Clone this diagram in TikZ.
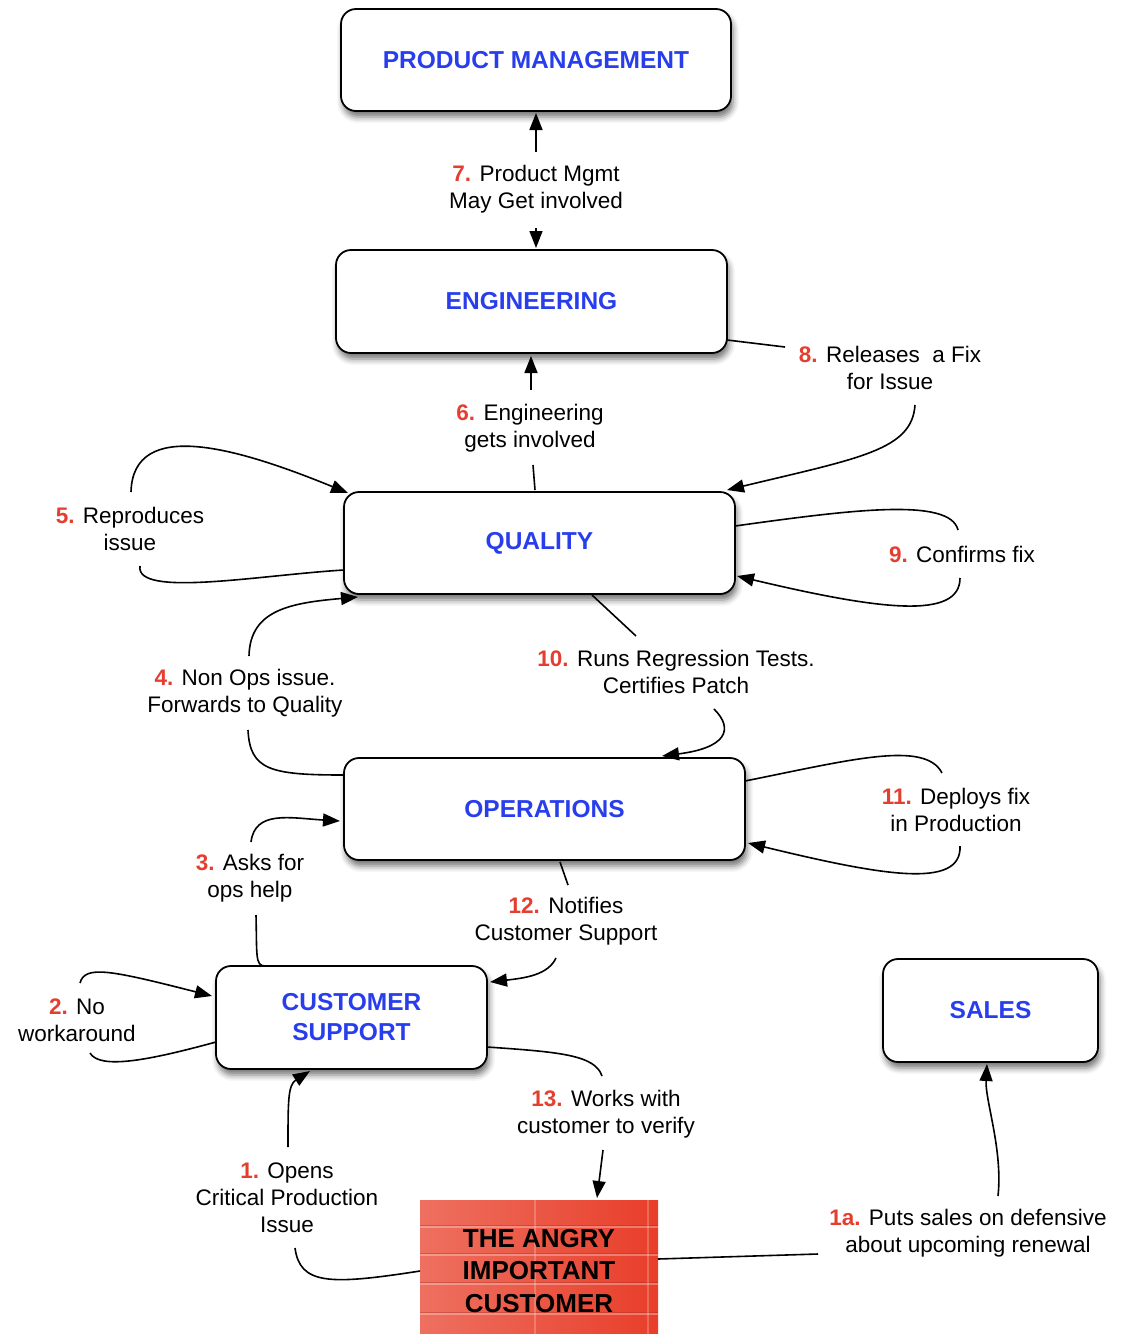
\documentclass[tikz,border=0pt]{standalone}
\usepackage{fontspec}
\setmainfont{Liberation Sans}
\usetikzlibrary{arrows.meta,calc,shadows.blur}
\definecolor{boxblue}{RGB}{40,62,236}
\definecolor{numred}{RGB}{228,62,48}
\definecolor{custlight}{RGB}{238,112,96}
\definecolor{custdark}{RGB}{232,62,42}
\newcommand{\nr}[1]{\textcolor{numred}{\textbf{#1}}}
\begin{document}
\begin{tikzpicture}[x=1pt,y=-1pt,
  box/.style={draw=black, line width=1.8pt, rounded corners=15pt, fill=white, inner sep=0pt,
    align=center, font=\fontsize{24.5}{30}\selectfont\bfseries, text=boxblue,
    blur shadow={shadow xshift=2pt, shadow yshift=-6pt, shadow blur radius=6pt, shadow opacity=55}},
  custbox/.style={inner sep=0pt, align=center, font=\fontsize{26}{32.5}\selectfont\bfseries, text=black,
    left color=custlight, right color=custdark,
    path picture={
      \foreach \d in {25,53,82,112}{
        \draw[custdark!70!black, opacity=0.35, line width=1pt]
          ($(path picture bounding box.north west)+(0,\d)$) -- ($(path picture bounding box.north east)+(0,\d)$);
        \draw[white, opacity=0.3, line width=2pt]
          ($(path picture bounding box.north west)+(0,\d+2)$) -- ($(path picture bounding box.north east)+(0,\d+2)$);
      }
      \foreach \e in {115,228}{
        \draw[white, opacity=0.22, line width=1.5pt]
          ($(path picture bounding box.north west)+(\e,0)$) -- ($(path picture bounding box.south west)+(\e,0)$);
      }
    }},
  lbl/.style={align=center, inner sep=0pt, font=\fontsize{22.5}{27}\selectfont},
  conn/.style={line width=1.6pt},
  arr/.style={conn, -{Triangle[length=17pt,width=13pt]}},
]
\useasboundingbox (0,0) rectangle (1122,1334);

% boxes
\node[box, minimum width=390pt, minimum height=102pt] (pm) at (536,60) {PRODUCT MANAGEMENT};
\node[box, minimum width=391pt, minimum height=103pt] (eng) at (531.5,301.5) {ENGINEERING};
\node[box, minimum width=391pt, minimum height=102pt] (q) at (539.5,543) {QUALITY};
\node[box, minimum width=401pt, minimum height=102pt] (ops) at (544.5,809) {OPERATIONS};
\node[box, minimum width=271pt, minimum height=103pt] (cs) at (351.5,1017.5) {CUSTOMER\\SUPPORT};
\node[box, minimum width=215pt, minimum height=103pt] (sales) at (990.5,1010.5) {SALES};
\node[custbox, minimum width=238pt, minimum height=142pt] (cust) at (539,1271) {THE ANGRY\\IMPORTANT\\CUSTOMER};

% labels
\node[lbl] (l7) at (536,189) {\nr{7.} Product Mgmt\\May Get involved};
\node[lbl] (l8) at (890,368) {\nr{8.} Releases\ \ a Fix\\for Issue};
\node[lbl] (l6) at (530,428) {\nr{6.} Engineering\\gets involved};
\node[lbl] (l5) at (130,529) {\nr{5.} Reproduces\\issue};
\node[lbl] (l9) at (962,554) {\nr{9.} Confirms fix};
\node[lbl] (l10) at (676,672) {\nr{10.} Runs Regression Tests.\\Certifies Patch};
\node[lbl] (l4) at (245,693) {\nr{4.} Non Ops issue.\\Forwards to Quality};
\node[lbl] (l11) at (956,810) {\nr{11.} Deploys fix\\in Production};
\node[lbl] (l3) at (250,878) {\nr{3.} Asks for\\ops help};
\node[lbl] (l12) at (566,921) {\nr{12.} Notifies\\Customer Support};
\node[lbl] (l2) at (77,1020) {\nr{2.} No\\workaround};
\node[lbl] (l13) at (606,1114) {\nr{13.} Works with\\customer to verify};
\node[lbl] (l1) at (287,1198) {\nr{1.} Opens\\Critical Production\\Issue};
\node[lbl] (l1a) at (968,1233) {\nr{1a.} Puts sales on defensive\\about upcoming renewal};

% connectors
\draw[arr] ($(l7)+(0,-37)$) -- ($(pm)+(0,53)$);
\draw[arr] ($(l7)+(0,39)$) -- ($(eng)+(4.5,-53.5)$);
\draw[conn] ($(eng)+(195.5,38.5)$) -- ($(l8)+(-105,-21)$);
\draw[arr] ($(l8)+(25,37)$) .. controls +(-3,45) and +(133,-32) .. ($(q)+(187.5,-53)$);
\draw[conn] ($(q)+(-4.5,-53)$) -- ($(l6)+(3,37)$);
\draw[arr] ($(l6)+(1,-38)$) -- ($(eng)+(-0.5,54.5)$);
\draw[arr] ($(l5)+(1,-37)$) .. controls +(2,-75) and +(-110,-45) .. ($(q)+(-191.5,-50)$);
\draw[conn] ($(q)+(-195.5,27)$) .. controls +(-84,5) and +(-5,32) .. ($(l5)+(10,37)$);
\draw[conn] ($(q)+(195.5,-17)$) .. controls +(115,-16) and +(-8,-33) .. ($(l9)+(-4,-24)$);
\draw[arr] ($(l9)+(-2,24)$) .. controls +(0,42) and +(143,34) .. ($(q)+(197.5,33)$);
\draw[conn] ($(q)+(52.5,52)$) -- ($(l10)+(-40,-36)$);
\draw[arr] ($(l10)+(38,37)$) .. controls +(21,21) and +(63,-8) .. ($(ops)+(117.5,-53)$);
\draw[arr] ($(l4)+(4,-37)$) .. controls +(1,-46) and +(-68,6) .. ($(q)+(-181.5,54)$);
\draw[conn] ($(ops)+(-200.5,-34)$) .. controls +(-74,0) and +(2,40) .. ($(l4)+(3,37)$);
\draw[conn] ($(ops)+(200.5,-28)$) .. controls +(105,-21) and +(-17,-33) .. ($(l11)+(-14,-37)$);
\draw[arr] ($(l11)+(4,36)$) .. controls +(2,44) and +(132,32) .. ($(ops)+(203.5,34)$);
\draw[arr] ($(l3)+(1,-36)$) .. controls +(4,-32) and +(-50,-3) .. ($(ops)+(-204.5,12)$);
\draw[conn] ($(l3)+(6,37)$) .. controls +(1,40) and +(-10,0) .. ($(cs)+(-86.5,-51.5)$);
\draw[conn] ($(ops)+(15.5,53)$) -- ($(l12)+(2,-36)$);
\draw[arr] ($(l12)+(-10,37)$) .. controls +(-8,17) and +(35,-4) .. ($(cs)+(138.5,-35.5)$);
\draw[arr] ($(l2)+(3,-37)$) .. controls +(5,-18) and +(-102,-26) .. ($(cs)+(-139.5,-21.5)$);
\draw[conn] ($(cs)+(-135.5,24.5)$) .. controls +(-66,18) and +(10,17) .. ($(l2)+(13,33)$);
\draw[conn] ($(cs)+(135.5,29.5)$) .. controls +(73,5) and +(-7,-21) .. ($(l13)+(-4,-38)$);
\draw[arr] ($(l13)+(-3,36)$) -- ($(cust)+(58,-73)$);
\draw[arr] ($(l1)+(1,-51)$) .. controls +(0,-47) and +(-22,14) .. ($(cs)+(-41.5,53.5)$);
\draw[conn] ($(l1)+(8,50)$) .. controls +(5,37) and +(-90,14) .. ($(cust)+(-119,0)$);
\draw[conn] ($(cust)+(119,-12)$) -- ($(l1a)+(-150,21)$);
\draw[arr] ($(l1a)+(30,-37)$) .. controls +(5,-46) and +(-2,36) .. ($(sales)+(-3.5,53.5)$);
\end{tikzpicture}
\end{document}
